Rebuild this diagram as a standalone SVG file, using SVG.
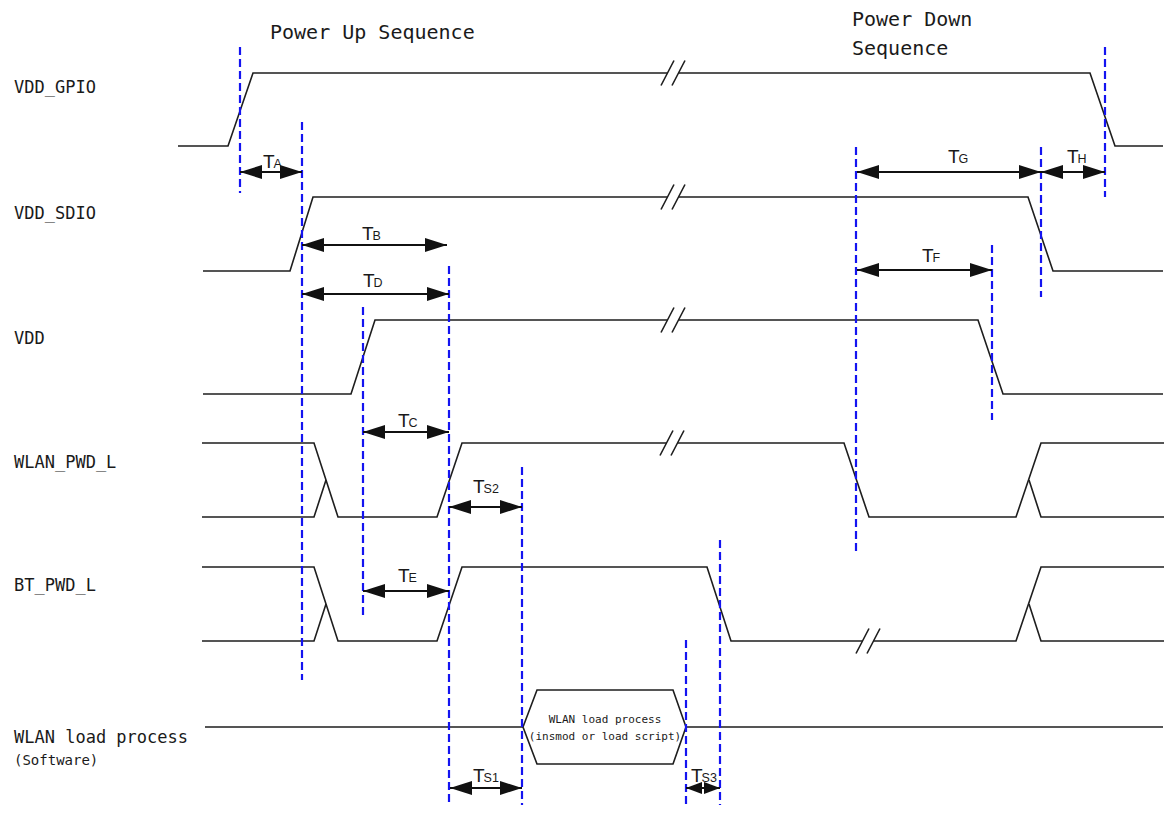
<svg xmlns="http://www.w3.org/2000/svg" xmlns:xlink="http://www.w3.org/1999/xlink" width="1171" height="816" viewBox="0 0 1171 816">
<style>
.bg{fill:#ffffff}
.sig{fill:none;stroke:#1e1e1e;stroke-width:1.6;stroke-linejoin:miter}
.lbl{font-family:"DejaVu Sans Mono","Liberation Mono",monospace;font-size:17px;fill:#1a1a1a}
.small{font-family:"DejaVu Sans Mono","Liberation Mono",monospace;font-size:14px;fill:#1a1a1a}
.head{font-family:"DejaVu Sans Mono","Liberation Mono",monospace;font-size:20px;fill:#1a1a1a}
.box{font-family:"DejaVu Sans Mono","Liberation Mono",monospace;font-size:11px;fill:#1a1a1a}
.blue{fill:none;stroke:#1414f0;stroke-width:2.2;stroke-dasharray:8 4}
.arr{fill:none;stroke:#111;stroke-width:2;marker-start:url(#ah);marker-end:url(#ah)}
.arrs{fill:none;stroke:#111;stroke-width:2;marker-start:url(#ahs);marker-end:url(#ahs)}
.t{font-family:"Liberation Sans","DejaVu Sans",sans-serif;font-size:19px;fill:#1a1a1a}
.sub{font-size:12.5px}
</style>
<defs>
<marker id="ah" viewBox="0 0 22 14" refX="22" refY="7" markerWidth="22" markerHeight="14" markerUnits="userSpaceOnUse" orient="auto-start-reverse"><path d="M0,0 L22,7 L0,14 Z" fill="#111"/></marker>
<marker id="ahs" viewBox="0 0 16 12" refX="16" refY="6" markerWidth="16" markerHeight="12" markerUnits="userSpaceOnUse" orient="auto-start-reverse"><path d="M0,0 L16,6 L0,12 Z" fill="#111"/></marker>
<g id="brk"><rect x="-5.5" y="-3" width="11" height="6" fill="#fff"/><path d="M-12,12.5 L1,-12.5 M-1,12.5 L12,-12.5" fill="none" stroke="#1e1e1e" stroke-width="1.6"/></g>
</defs>
<rect class="bg" x="0" y="0" width="1171" height="816"/>

<g id="headings">
<text class="head" x="270" y="39">Power Up Sequence</text>
<text class="head" x="852" y="26">Power Down</text>
<text class="head" x="852" y="55">Sequence</text>
</g>

<g id="vdd_gpio">
<text class="lbl" x="14" y="93">VDD_GPIO</text>
<path class="sig" d="M178,146 H228 L253,73 H1090 L1115,146 H1163"/>
<use xlink:href="#brk" x="673" y="73"/>
</g>

<g id="vdd_sdio">
<text class="lbl" x="14" y="219">VDD_SDIO</text>
<path class="sig" d="M203,271 H290 L313,197 H1028 L1053,271 H1163"/>
<use xlink:href="#brk" x="673" y="197"/>
</g>

<g id="vdd">
<text class="lbl" x="14" y="344">VDD</text>
<path class="sig" d="M203,394 H351 L375,320 H978 L1003,394 H1163"/>
<use xlink:href="#brk" x="673" y="320"/>
</g>

<g id="wlan_pwd_l">
<text class="lbl" x="14" y="468">WLAN_PWD_L</text>
<path class="sig" d="M202,443 H314 L338,517 H437 L462,443 H844 L869,517 H1016 L1041,443 H1164"/>
<path class="sig" d="M202,517 H314 L326,480 M1164,517 H1041 L1029,480"/>
<use xlink:href="#brk" x="672" y="443"/>
</g>

<g id="bt_pwd_l">
<text class="lbl" x="14" y="591">BT_PWD_L</text>
<path class="sig" d="M202,567 H314 L338,641 H437 L462,567 H707 L731,641 H1016 L1041,567 H1164"/>
<path class="sig" d="M202,641 H314 L326,604 M1164,641 H1041 L1029,604"/>
<use xlink:href="#brk" x="868" y="641"/>
</g>

<g id="wlan_load">
<text class="lbl" x="14" y="743">WLAN load process</text>
<text class="small" x="14" y="765">(Software)</text>
<path class="sig" d="M205,727 H523 M686,727 H1163"/>
<path class="sig" d="M523,727 L537,690 H673 L686,727 L673,764 H537 Z"/>
<text class="box" x="605" y="723" text-anchor="middle">WLAN load process</text>
<text class="box" x="605" y="740" text-anchor="middle">(insmod or load script)</text>
</g>

<g id="guides">
<path class="blue" d="M240,47 V193"/>
<path class="blue" d="M302,122 V680"/>
<path class="blue" d="M363,307 V618"/>
<path class="blue" d="M449,266 V805"/>
<path class="blue" d="M522,467 V805"/>
<path class="blue" d="M686,640 V805"/>
<path class="blue" d="M720,540 V805"/>
<path class="blue" d="M856,147 V555"/>
<path class="blue" d="M992,245 V420"/>
<path class="blue" d="M1041,147 V297"/>
<path class="blue" d="M1105,47 V197"/>
</g>

<g id="connectors">
<path class="arr" d="M240,172 H302"/>
<path class="arr" d="M302,245 H447"/>
<path class="arr" d="M302,294 H449"/>
<path class="arr" d="M363,432 H449"/>
<path class="arr" d="M449,507 H522"/>
<path class="arr" d="M363,591 H449"/>
<path class="arr" d="M450,788 H522"/>
<path class="arrs" d="M686,788 H720"/>
<path class="arr" d="M857,172 H1041"/>
<path class="arr" d="M1041,172 H1105"/>
<path class="arr" d="M857,270 H992"/>
</g>

<g id="timing-labels">
<text class="t" x="263" y="168">T<tspan class="sub" dx="-1">A</tspan></text>
<text class="t" x="362" y="240">T<tspan class="sub" dx="-1">B</tspan></text>
<text class="t" x="363" y="287">T<tspan class="sub" dx="-1">D</tspan></text>
<text class="t" x="398" y="427">T<tspan class="sub" dx="-1">C</tspan></text>
<text class="t" x="398" y="582">T<tspan class="sub" dx="-1">E</tspan></text>
<text class="t" x="473" y="493">T<tspan class="sub" dx="-1">S2</tspan></text>
<text class="t" x="948" y="163">T<tspan class="sub" dx="-1">G</tspan></text>
<text class="t" x="1067" y="163">T<tspan class="sub" dx="-1">H</tspan></text>
<text class="t" x="922" y="262">T<tspan class="sub" dx="-1">F</tspan></text>
<text class="t" x="473" y="782">T<tspan class="sub" dx="-1">S1</tspan></text>
<text class="t" x="691" y="782">T<tspan class="sub" dx="-1">S3</tspan></text>
</g>
</svg>
